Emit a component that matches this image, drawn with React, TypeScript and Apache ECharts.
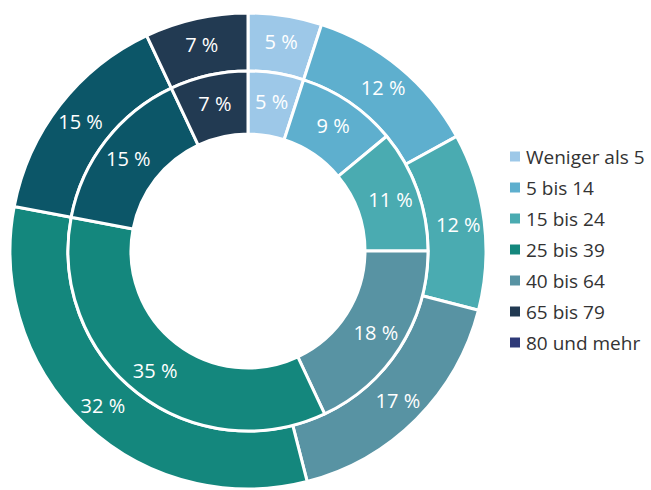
import React, { useEffect, useRef } from "react";
import * as echarts from "echarts";

const categories = ["Weniger als 5", "5 bis 14", "15 bis 24", "25 bis 39", "40 bis 64", "65 bis 79", "80 und mehr"];
const innerValues = [5, 9, 11, 18, 35, 15, 7];
const outerValues = [5, 12, 12, 17, 32, 15, 7];
const sliceColors = ["#9DC8E8", "#5EAFCE", "#4AABB1", "#5893A3", "#14877D", "#0C5668", "#223A52"];
const legendColors = ["#9DC8E8", "#5EAFCE", "#4AABB1", "#14877D", "#5893A3", "#223A52", "#2E3A78"];

const FONT = "'Open Sans', 'Noto Sans', sans-serif";

export default function App() {
  const ref = useRef<HTMLDivElement>(null);
  useEffect(() => {
    const chart = echarts.init(ref.current!, null, { renderer: "svg" });
    const mk = (vals: number[]) =>
      vals.map((v, i) => ({ name: categories[i], value: v, itemStyle: { color: sliceColors[i] } }));
    const common = {
      type: "pie",
      center: [248, 251],
      startAngle: 90,
      clockwise: true,
      avoidLabelOverlap: false,
      itemStyle: { borderColor: "#ffffff", borderWidth: 3 },
      label: {
        show: true,
        position: "inside",
        formatter: "{c} %",
        color: "#ffffff",
        fontSize: 20,
        fontFamily: FONT,
      },
      labelLine: { show: false },
      emphasis: { disabled: true },
    };
    chart.setOption({
      animation: false,
      legend: {
        orient: "vertical",
        left: 503,
        top: 142,
        icon: "rect",
        itemWidth: 12,
        itemHeight: 12,
        itemGap: 12,
        selectedMode: false,
        textStyle: { fontSize: 19, color: "#333333", fontFamily: FONT },
        data: categories.map((c, i) => ({ name: c, itemStyle: { color: legendColors[i] } })),
      },
      series: [
        { ...common, name: "outer", radius: [180, 238], data: mk(outerValues) },
        { ...common, name: "inner", radius: [117, 180], data: mk(innerValues) },
      ],
    });
    return () => chart.dispose();
  }, []);
  return <div ref={ref} style={{ width: 651, height: 490, position: "absolute", left: 0, top: 0 }} />;
}
